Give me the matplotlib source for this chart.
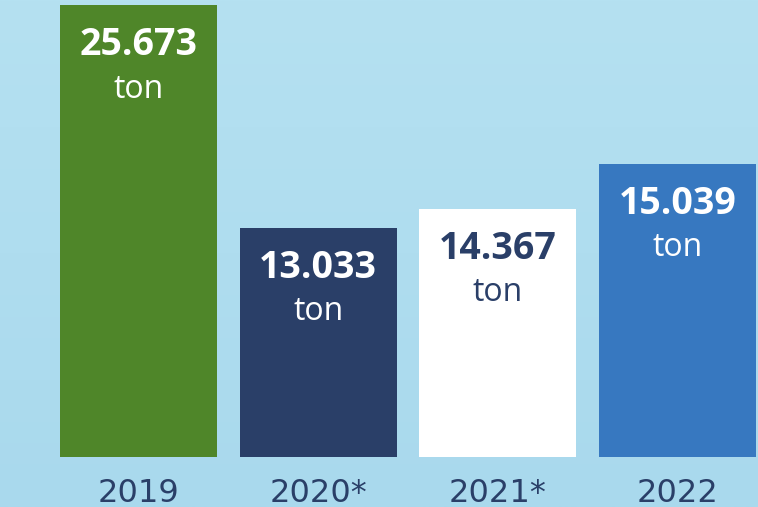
import numpy as np
import matplotlib.pyplot as plt

years = ['2019', '2020*', '2021*', '2022']
values = ['25.673', '13.033', '14.367', '15.039']
# bar heights as drawn in the picture (not exactly to scale)
heights = [25.673, 13.033, 14.1, 16.65]
bar_colors = ['#4F8629', '#2A3F68', '#FFFFFF', '#3778C0']
text_colors = ['#FFFFFF', '#FFFFFF', '#2A3F68', '#FFFFFF']

fig = plt.figure(figsize=(7.58, 5.07), dpi=100)

# light blue gradient background
bg = fig.add_axes([0, 0, 1, 1], zorder=0)
top = np.array([181, 225, 241]) / 255
bot = np.array([169, 217, 237]) / 255
t = np.linspace(0, 1, 256)[:, None]
grad = top[None, :] * (1 - t) + bot[None, :] * t
bg.imshow(grad[:, None, :], aspect='auto', extent=[0, 1, 0, 1])
bg.axis('off')

ax = fig.add_axes([0, 50 / 507, 1, 457 / 507], zorder=1)
ax.patch.set_alpha(0)
x = np.arange(len(years))
ax.bar(x, heights, width=157 / 179.7, color=bar_colors)
ax.set_xlim(-138.5 / 179.7, (758 - 138.5) / 179.7)
ax.set_ylim(0, 457 / 17.6)
ax.axis('off')

for i in range(len(years)):
    ax.annotate(values[i], (x[i], heights[i]), xytext=(0, -40), textcoords='offset pixels',
                ha='center', va='center', fontsize=27, fontweight='bold',
                family='Open Sans', color=text_colors[i])
    ax.annotate('ton', (x[i], heights[i]), xytext=(0, -84), textcoords='offset pixels',
                ha='center', va='center', fontsize=23, family='Open Sans',
                color=text_colors[i])
    ax.annotate(years[i], (x[i], 0), xytext=(0, -36), textcoords='offset pixels',
                ha='center', va='center', fontsize=23, family='DejaVu Sans',
                color='#2A3F68', annotation_clip=False)

fig.savefig('out.png', dpi=100)
